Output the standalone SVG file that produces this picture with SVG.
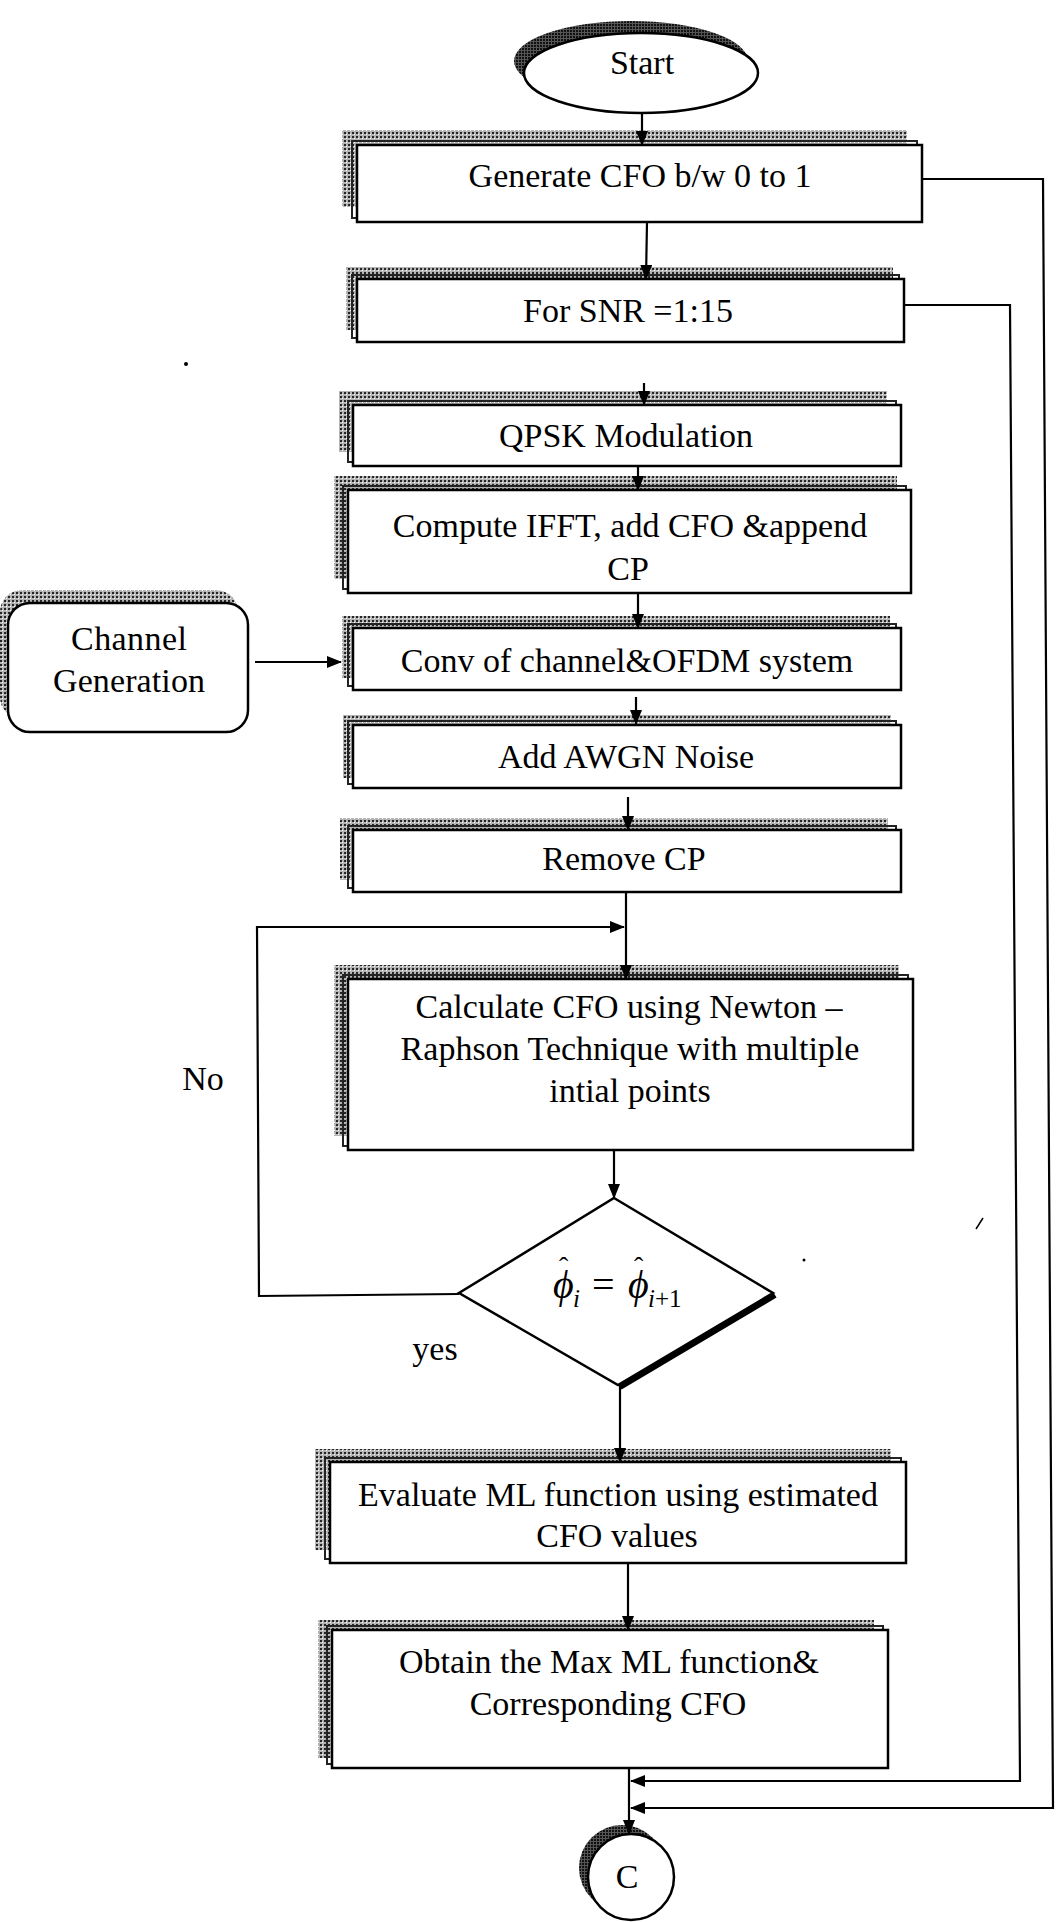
<svg xmlns="http://www.w3.org/2000/svg" width="1057" height="1922" viewBox="0 0 1057 1922">
<defs>
<pattern id="hatch" width="4" height="4" patternUnits="userSpaceOnUse"><rect width="4" height="4" fill="#b4b4b4"/><rect width="2" height="2" fill="#262626"/><rect x="2" y="2" width="1" height="1" fill="#fff"/></pattern>
<pattern id="hatchD" width="3" height="3" patternUnits="userSpaceOnUse"><rect width="3" height="3" fill="#555"/><rect width="2" height="2" fill="#111"/></pattern>
<marker id="ah" markerWidth="15" markerHeight="12" refX="14" refY="6" orient="auto" markerUnits="userSpaceOnUse"><path d="M0,0 L15,6 L0,12 z" fill="#000"/></marker>
</defs>
<style>
.box{fill:#fff;stroke:#000;stroke-width:2.5}
.sh{fill:url(#hatch)}
.in{fill:none;stroke:#222;stroke-width:2}
.t{font-family:"Liberation Serif","Times New Roman",serif;font-size:34px;fill:#000;text-anchor:middle}
.c{fill:none;stroke:#000;stroke-width:2.2}
.a{fill:none;stroke:#000;stroke-width:2.2;marker-end:url(#ah)}
.m{font-family:"Liberation Serif","Times New Roman",serif;fill:#000}
</style>
<rect width="1057" height="1922" fill="#fff"/>

<g id="n-start">
<ellipse cx="631" cy="61" rx="117" ry="40" fill="url(#hatchD)"/>
<ellipse cx="641" cy="73" rx="117" ry="40" class="box"/>
<text class="t" x="642" y="74">Start</text>
</g>

<g id="n-generate">
<rect class="sh" x="342" y="130" width="565" height="77"/>
<rect class="in" x="352" y="141" width="565" height="77"/>
<rect class="box" x="357" y="145" width="565" height="77"/>
<text class="t" x="640" y="187">Generate CFO b/w 0 to 1</text>
</g>

<g id="n-snr">
<rect class="sh" x="346" y="267" width="547" height="63"/>
<rect class="in" x="352" y="275" width="547" height="63"/>
<rect class="box" x="357" y="279" width="547" height="63"/>
<text class="t" x="628" y="322">For SNR =1:15</text>
</g>

<g id="n-qpsk">
<rect class="sh" x="339" y="391" width="548" height="61"/>
<rect class="in" x="348" y="401" width="548" height="61"/>
<rect class="box" x="353" y="405" width="548" height="61"/>
<text class="t" x="626" y="447">QPSK Modulation</text>
</g>

<g id="n-ifft">
<rect class="sh" x="334" y="476" width="563" height="103"/>
<rect class="in" x="343" y="486" width="563" height="103"/>
<rect class="box" x="348" y="490" width="563" height="103"/>
<text class="t" x="630" y="537">Compute IFFT, add CFO &amp;append</text>
<text class="t" x="628" y="580">CP</text>
</g>

<g id="n-channel">
<rect x="0" y="590" width="238" height="129" rx="22" fill="url(#hatch)"/>
<rect class="box" x="8" y="603" width="240" height="129" rx="22"/>
<text class="t" x="129" y="650" textLength="116" lengthAdjust="spacing">Channel</text>
<text class="t" x="129" y="692" textLength="152" lengthAdjust="spacing">Generation</text>
</g>

<g id="n-conv">
<rect class="sh" x="342" y="616" width="548" height="62"/>
<rect class="in" x="348" y="624" width="548" height="62"/>
<rect class="box" x="353" y="628" width="548" height="62"/>
<text class="t" x="627" y="672">Conv of channel&amp;OFDM system</text>
</g>

<g id="n-awgn">
<rect class="sh" x="343" y="715" width="548" height="63"/>
<rect class="in" x="348" y="721" width="548" height="63"/>
<rect class="box" x="353" y="725" width="548" height="63"/>
<text class="t" x="626" y="768">Add AWGN Noise</text>
</g>

<g id="n-remove">
<rect class="sh" x="340" y="818" width="548" height="62"/>
<rect class="in" x="348" y="826" width="548" height="62"/>
<rect class="box" x="353" y="830" width="548" height="62"/>
<text class="t" x="624" y="870">Remove CP</text>
</g>

<g id="n-calc">
<rect class="sh" x="334" y="965" width="565" height="171"/>
<rect class="in" x="343" y="975" width="565" height="171"/>
<rect class="box" x="348" y="979" width="565" height="171"/>
<text class="t" x="629" y="1018">Calculate CFO using Newton –</text>
<text class="t" x="630" y="1060">Raphson Technique with multiple</text>
<text class="t" x="630" y="1102">intial points</text>
</g>

<g id="n-decision">
<line x1="620" y1="1387" x2="775" y2="1295" stroke="#000" stroke-width="6"/>
<polygon class="box" points="614,1198 773,1293 618,1385 459,1293"/>
<text class="m"><tspan x="553" y="1298" font-size="40" font-style="italic">ϕ</tspan><tspan x="573" y="1307" font-size="25" font-style="italic">i</tspan><tspan x="592" y="1298" font-size="40">=</tspan><tspan x="628" y="1298" font-size="40" font-style="italic">ϕ</tspan><tspan x="648" y="1307" font-size="25" font-style="italic">i</tspan><tspan x="655" y="1307" font-size="25">+1</tspan><tspan x="559" y="1276" font-size="28">ˆ</tspan><tspan x="634" y="1276" font-size="28">ˆ</tspan></text>
</g>

<g id="n-evaluate">
<rect class="sh" x="315" y="1449" width="576" height="101"/>
<rect class="in" x="325" y="1458" width="576" height="101"/>
<rect class="box" x="330" y="1462" width="576" height="101"/>
<text class="t" x="618" y="1506">Evaluate ML function using estimated</text>
<text class="t" x="617" y="1547">CFO values</text>
</g>

<g id="n-obtain">
<rect class="sh" x="318" y="1620" width="556" height="138"/>
<rect class="in" x="327" y="1626" width="556" height="138"/>
<rect class="box" x="332" y="1630" width="556" height="138"/>
<text class="t" x="609" y="1673">Obtain the Max ML function&amp;</text>
<text class="t" x="608" y="1715">Corresponding CFO</text>
</g>

<g id="n-c">
<circle cx="622" cy="1868" r="43" fill="url(#hatchD)"/>
<circle cx="631" cy="1877" r="43" class="box"/>
<text class="t" x="627" y="1888">C</text>
</g>

<g id="labels">
<text class="t" x="203" y="1090">No</text>
<text class="t" x="435" y="1360">yes</text>
</g>

<g id="connectors">
<line class="a" x1="642" y1="113" x2="642" y2="145"/>
<line class="a" x1="647" y1="222" x2="646" y2="279"/>
<line class="a" x1="644" y1="383" x2="644" y2="405"/>
<line class="a" x1="638" y1="466" x2="638" y2="490"/>
<line class="a" x1="638" y1="593" x2="638" y2="628"/>
<line class="a" x1="255" y1="662" x2="341" y2="662"/>
<line class="a" x1="636" y1="697" x2="636" y2="724"/>
<line class="a" x1="628" y1="797" x2="628" y2="830"/>
<line class="a" x1="626" y1="892" x2="626" y2="979"/>
<polyline class="a" points="459,1294 259,1296 257,927 624,927"/>
<line class="a" x1="614" y1="1150" x2="614" y2="1198"/>
<line class="a" x1="620" y1="1385" x2="620" y2="1462"/>
<line class="a" x1="628" y1="1563" x2="628" y2="1630"/>
<line class="a" x1="629" y1="1768" x2="629" y2="1834"/>
<polyline class="a" points="904,305 1010,305 1020,1781 631,1781"/>
<polyline class="a" points="922,179 1043,179 1053,1808 631,1808"/>
</g>

<g id="specks">
<circle cx="186" cy="364" r="2" fill="#000"/>
<line x1="976" y1="1229" x2="983" y2="1218" stroke="#000" stroke-width="1.5"/>
<circle cx="804" cy="1260" r="1.5" fill="#000"/>
</g>
</svg>
